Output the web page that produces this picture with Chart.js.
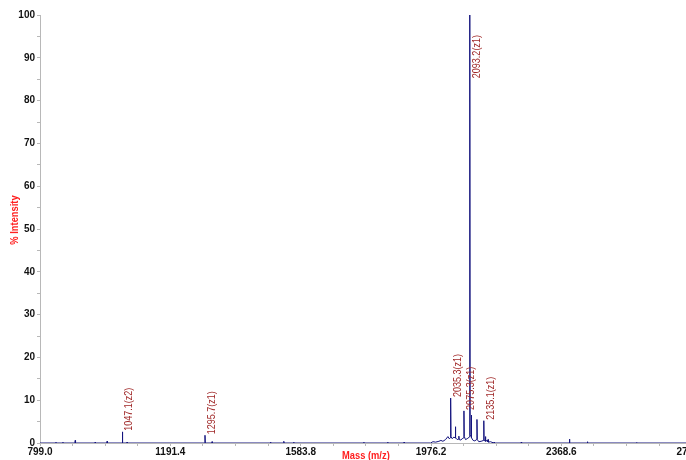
<!DOCTYPE html>
<html lang="en">
<head>
    <meta charset="UTF-8">
    <title>Mass Spectrum</title>
    <script src="https://cdn.jsdelivr.net/npm/chart.js"></script>
    <style>
        html, body { margin: 0; padding: 0; overflow: hidden; background: #fff; }
        .container { width: 707px; height: 460px; }
    </style>
</head>
<body>
    <div class="container">
        <canvas id="specChart"></canvas>
    </div>
    <script>
        // spectrum (m/z, % intensity)
        const massValues = [
            799.0, 846, 847, 848, 867, 868, 869, 904, 905, 906, 964, 965, 966,
            1000, 1001, 1002, 1046.3, 1047.1, 1048.0, 1060, 1061, 1062,
            1294.9, 1295.7, 1296.6, 1316, 1317, 1318, 1492, 1493, 1494,
            1532, 1533, 1534, 1562, 1563, 1564, 1773, 1774, 1775,
            1845, 1846, 1847, 1894, 1895, 1896, 1975, 1982, 1990, 2000,
            2006, 2012, 2020, 2027, 2031, 2034.4, 2035.3, 2036.4, 2040,
            2045, 2048.6, 2049.5, 2050.6, 2055, 2059, 2060, 2061, 2066,
            2070, 2074.4, 2075.3, 2076.3, 2080, 2085, 2091.8, 2092.6,
            2093.2, 2094.0, 2096.8, 2097.6, 2098.6, 2103, 2108, 2113.6,
            2114.5, 2115.5, 2120, 2127, 2134.3, 2135.1, 2136.0, 2139,
            2140, 2141, 2145, 2147, 2148, 2149, 2155, 2165, 2166, 2167,
            2247, 2248, 2249, 2392, 2393, 2394, 2446, 2447, 2448,
            2594, 2595, 2596, 2761.0
        ];
        const intensityValues = [
            0, 0, 0.2, 0, 0, 0.2, 0, 0, 0.6, 0, 0, 0.2, 0,
            0, 0.4, 0, 0, 2.6, 0, 0, 0.2, 0,
            0, 1.8, 0, 0, 0.3, 0, 0, 0.2, 0,
            0, 0.4, 0, 0, 0.2, 0, 0, 0.2, 0,
            0, 0.2, 0, 0, 0.2, 0, 0, 0.3, 0.2, 0.4,
            0.6, 0.4, 0.8, 1.5, 1.0, 1.2, 10.5, 1.5, 1.0,
            1.4, 1.2, 3.8, 1.2, 0.8, 0.9, 1.6, 0.8, 0.7,
            1.0, 1.2, 7.5, 1.5, 0.8, 1.0, 1.4, 66.5,
            100, 2.0, 1.5, 6.5, 1.2, 0.6, 0.5, 0.8,
            5.5, 0.8, 0.3, 0.4, 0.6, 5.2, 0.6, 0.5,
            1.5, 0.4, 0.6, 0.3, 0.8, 0.2, 0.3, 0, 0.2, 0,
            0, 0.2, 0, 0, 0.9, 0, 0, 0.3, 0,
            0, 0.1, 0, 0
        ];

        // peak annotations
        const peakMass = [1047.1, 1295.7, 2035.3, 2075.3, 2093.2, 2135.1];
        const peakText = ['1047.1(z2)', '1295.7(z1)', '2035.3(z1)', '2075.3(z1)', '2093.2(z1)', '2135.1(z1)'];
        const peakLabelAt = [2.6, 1.8, 10.5, 7.5, 85, 5.2];

        // axis ticks and titles
        const xTickValues = [799.0, 1191.4, 1583.8, 1976.2, 2368.6, 2761.0];
        const xMinorStep = 98.1;
        const xTitle = 'Mass (m/z)';
        const yTitle = '% Intensity';

        const fontFam = "'Liberation Sans', Arial, sans-serif";

        // rotated peak labels + axis titles, squeezed to mimic the narrow face of the original
        const spectrumText = {
            id: 'spectrumText',
            afterDatasetsDraw(chart) {
                const ctx = chart.ctx;
                const xs = chart.scales.x, ys = chart.scales.y;
                const area = chart.chartArea;
                ctx.save();
                ctx.font = '11px ' + fontFam;
                ctx.fillStyle = '#a02828';
                ctx.textAlign = 'left';
                ctx.textBaseline = 'top';
                peakMass.forEach((m, i) => {
                    const px = xs.getPixelForValue(m) + 1.5;
                    const py = ys.getPixelForValue(peakLabelAt[i]) - 1;
                    ctx.save();
                    ctx.translate(px, py);
                    ctx.rotate(-Math.PI / 2);
                    ctx.scale(0.82, 1);
                    ctx.fillText(peakText[i], 0, 0);
                    ctx.restore();
                });

                ctx.font = 'bold 11px ' + fontFam;
                ctx.fillStyle = '#ff2020';
                ctx.textAlign = 'center';
                ctx.textBaseline = 'middle';
                ctx.save();
                ctx.translate((area.left + area.right) / 2, area.bottom + 13);
                ctx.scale(0.85, 1);
                ctx.fillText(xTitle, 0, 0);
                ctx.restore();

                ctx.save();
                ctx.translate(15, (area.top + area.bottom) / 2 - 9);
                ctx.rotate(-Math.PI / 2);
                ctx.scale(0.85, 1);
                ctx.fillText(yTitle, 0, 0);
                ctx.restore();
                ctx.restore();
            }
        };

        const ctx = document.getElementById('specChart').getContext('2d');
        new Chart(ctx, {
            type: 'line',
            data: {
                datasets: [{
                    data: massValues.map((m, i) => ({ x: m, y: intensityValues[i] })),
                    borderColor: '#14147e',
                    borderWidth: 1,
                    pointRadius: 0,
                    tension: 0,
                    fill: false
                }]
            },
            options: {
                responsive: true,
                maintainAspectRatio: false,
                animation: false,
                layout: { padding: { top: 15, left: 0, right: 0, bottom: 0 } },
                plugins: {
                    legend: { display: false },
                    tooltip: { enabled: false }
                },
                scales: {
                    x: {
                        type: 'linear',
                        min: 799.0,
                        max: 2761.0,
                        afterBuildTicks(scale) {
                            const ticks = [];
                            for (let k = 0; k < xTickValues.length; k++) {
                                ticks.push({ value: xTickValues[k] });
                                if (k < xTickValues.length - 1) {
                                    for (let j = 1; j < 4; j++) ticks.push({ value: xTickValues[k] + j * xMinorStep, minor: true });
                                }
                            }
                            scale.ticks = ticks;
                        },
                        afterFit(scale) { scale.height = 17; },
                        ticks: {
                            autoSkip: false,
                            maxRotation: 0,
                            padding: 0,
                            color: '#111',
                            font: { family: fontFam, size: 10, weight: 'bold' },
                            callback: (v) => xTickValues.includes(v) ? v.toFixed(1) : ''
                        },
                        grid: { display: true, drawOnChartArea: false, tickLength: 3, color: '#b8b8b8' },
                        border: { display: true, color: '#b8b8b8' }
                    },
                    y: {
                        min: 0,
                        max: 100,
                        afterFit(scale) { scale.width = 40; },
                        ticks: {
                            stepSize: 5,
                            padding: 2,
                            color: '#111',
                            font: { family: fontFam, size: 10, weight: 'bold' },
                            callback: (v) => v % 10 === 0 ? v : ''
                        },
                        grid: { display: true, drawOnChartArea: false, tickLength: 3, color: '#b8b8b8' },
                        border: { display: true, color: '#b8b8b8' }
                    }
                }
            },
            plugins: [spectrumText]
        });
    </script>
</body>
</html>
